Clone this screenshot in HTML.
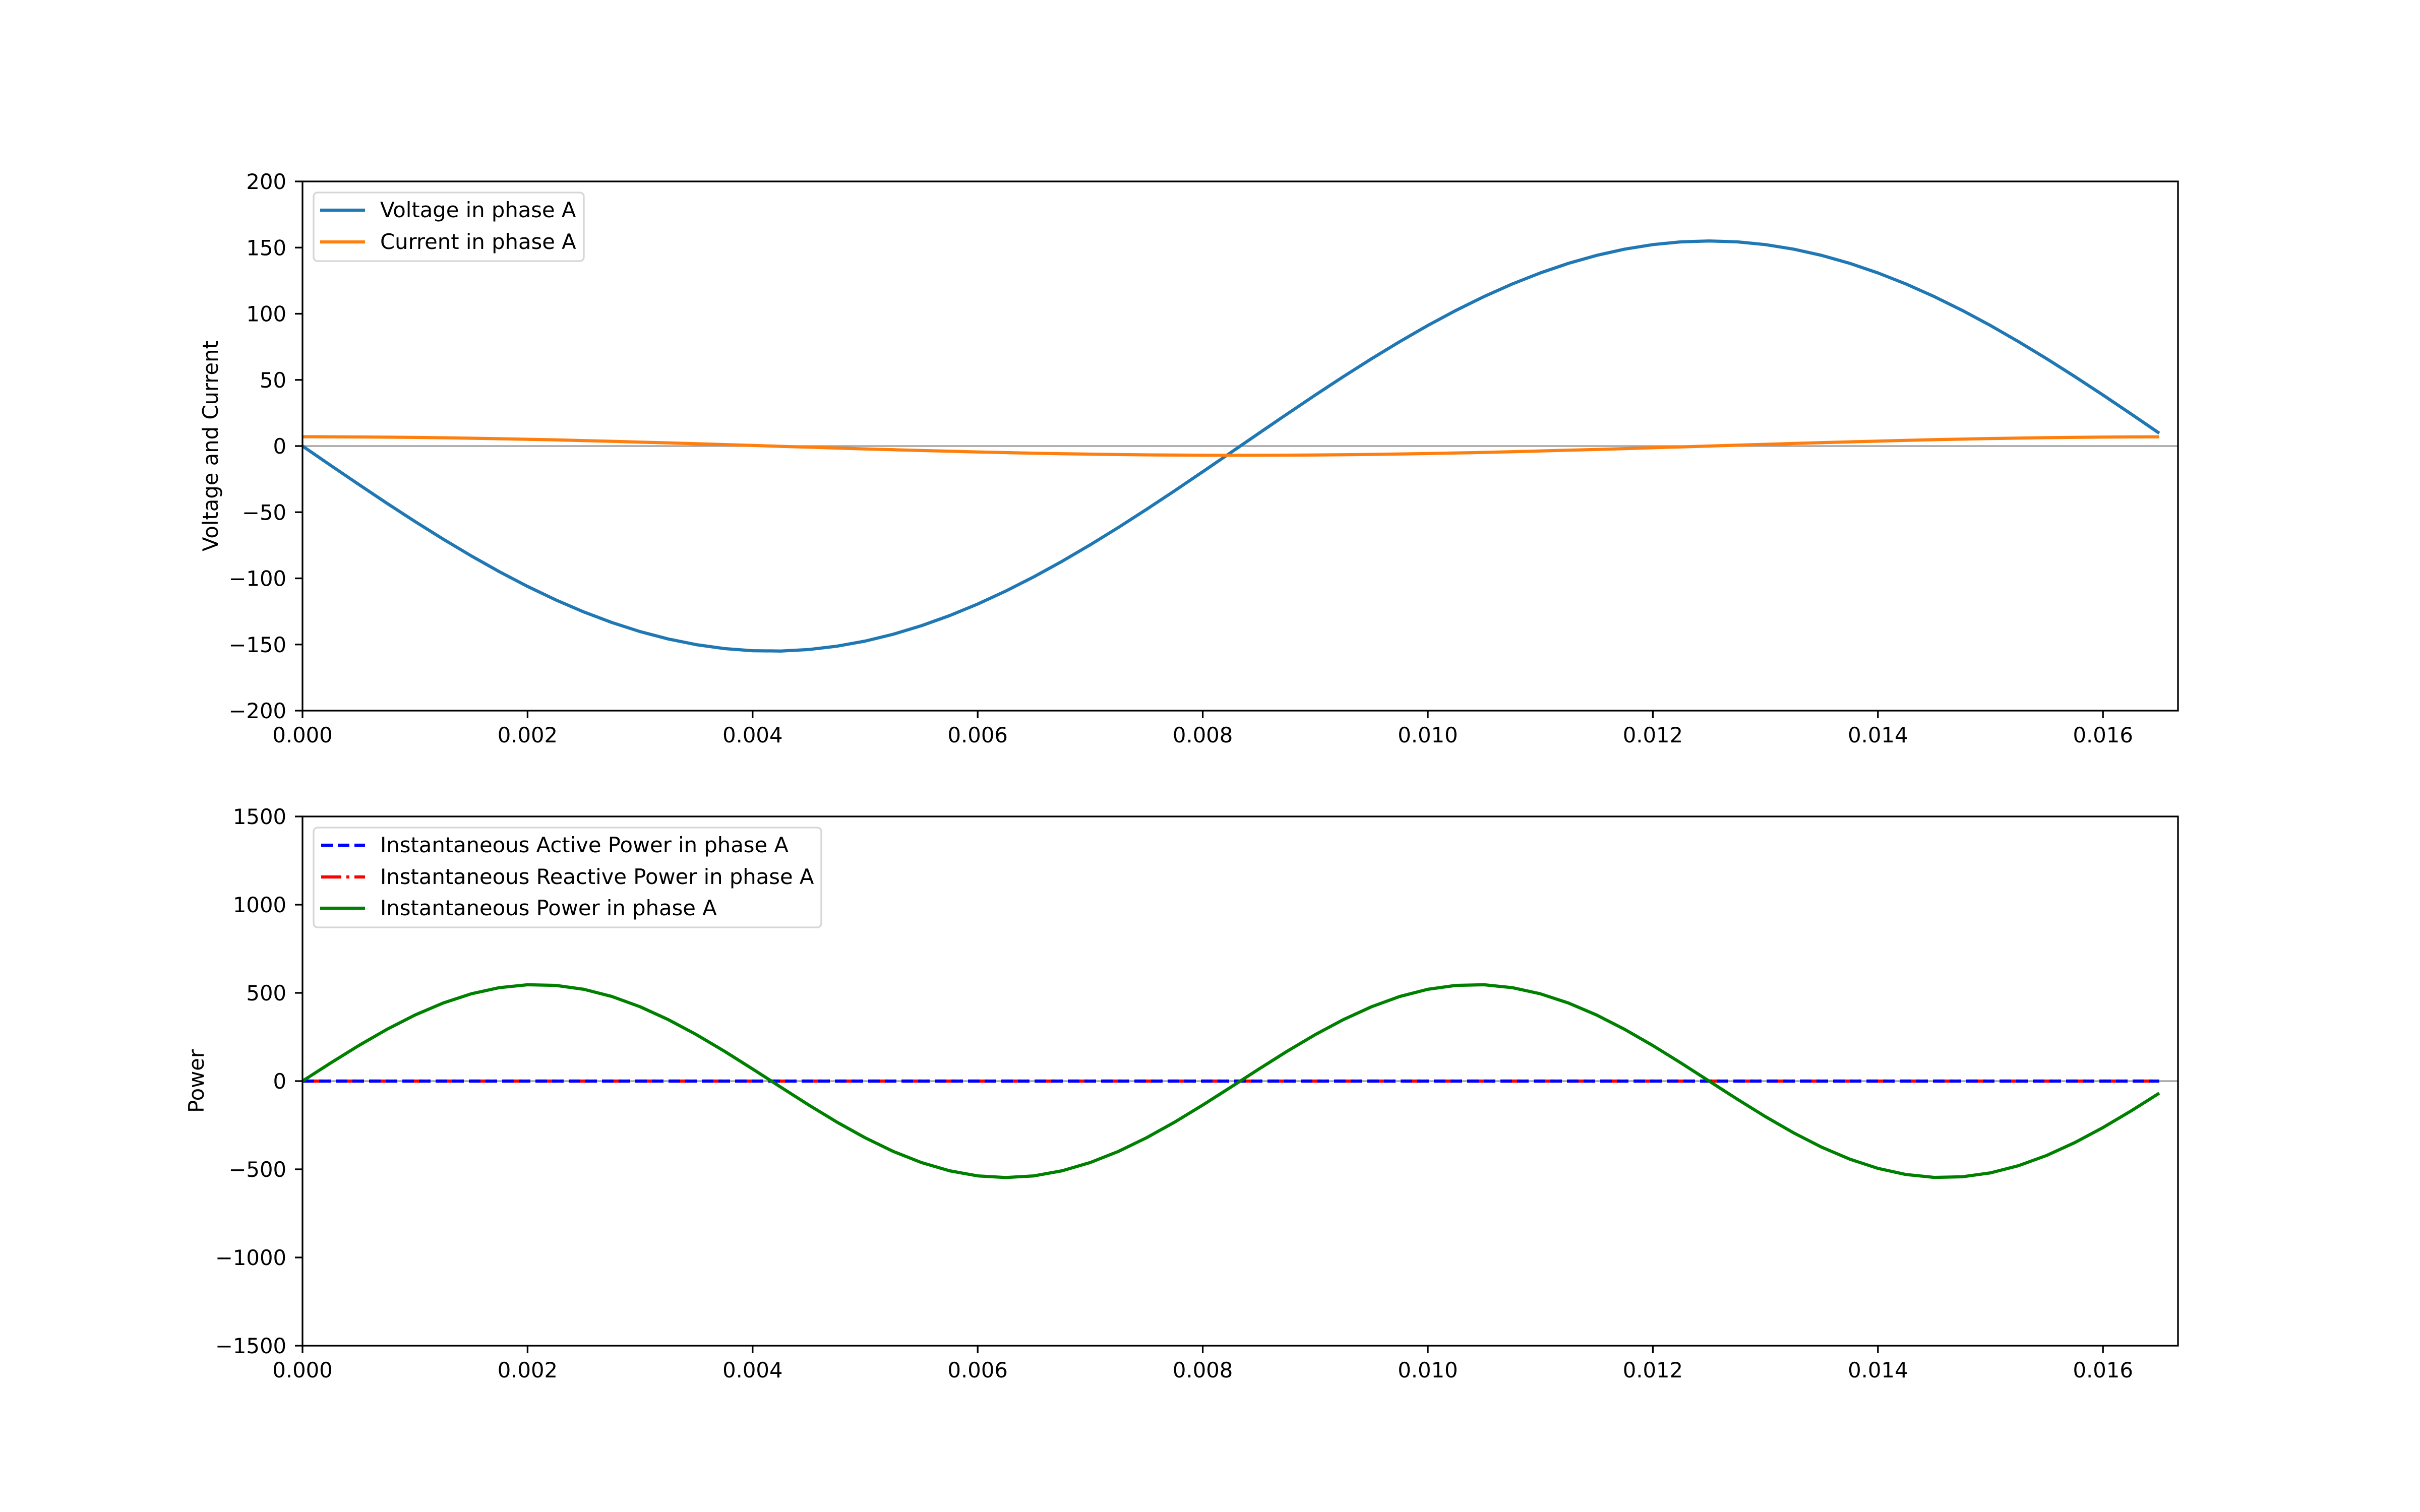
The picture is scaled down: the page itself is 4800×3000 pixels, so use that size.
<!DOCTYPE html>
<html><head><meta charset="utf-8"><style>
html,body{margin:0;padding:0;background:#fff}
svg{display:block}
text{font-family:"DejaVu Sans","Liberation Sans",sans-serif;font-size:41.7px;fill:#000}
</style></head><body>
<svg id="s" width="4800" height="3000" viewBox="0 0 4800 3000" xmlns="http://www.w3.org/2000/svg">
<rect width="4800" height="3000" fill="#fff"/>
<g id="g"></g>
</svg>
<script>
const g=document.getElementById('g');let h='';
const X=t=>600+t*223200;
const w=2*Math.PI*60;
const M='\u2212';
function fmt(v){return v<0?M+Math.abs(v):String(v);}
function axes(top,bot,ymin,ymax,step,label,labx){
  const Y=v=>bot-(v-ymin)/(ymax-ymin)*(bot-top);
  // gray zero line
  h+=`<line x1="600" x2="4320" y1="${Y(0)}" y2="${Y(0)}" stroke="#a0a0a0" stroke-width="3.3"/>`;
  for(let v=ymin;v<=ymax+1e-9;v+=step){const y=Y(v);
    h+=`<line x1="585" x2="600" y1="${y}" y2="${y}" stroke="#000" stroke-width="3.3"/>`;
    h+=`<text x="568" y="${y+15}" text-anchor="end">${fmt(v)}</text>`;}
  for(let i=0;i<=8;i++){const t=i*0.002,x=X(t);
    h+=`<line x1="${x}" x2="${x}" y1="${bot}" y2="${bot+15}" stroke="#000" stroke-width="3.3"/>`;
    h+=`<text x="${x}" y="${bot+63}" text-anchor="middle">${t.toFixed(3)}</text>`;}
  h+=`<text transform="translate(${labx},${(top+bot)/2}) rotate(-90)" text-anchor="middle">${label}</text>`;
  return Y;
}
function path(f,Y,col,extra){let d='';for(let i=0;i<=66;i++){const t=i*0.00025;d+=(i?'L':'M')+X(t).toFixed(1)+','+Y(f(t)).toFixed(1);}
  h+=`<path d="${d}" fill="none" stroke="${col}" stroke-width="6.25" stroke-linejoin="round" ${extra||''}/>`;}
const Y1=axes(360,1410,-200,200,50,'Voltage and Current',432);
path(t=>-155*Math.sin(w*t),Y1,'#1f77b4');
path(t=>7*Math.cos(w*t),Y1,'#ff7f0e');
const Y2=axes(1620,2670,-1500,1500,500,'Power',404);
path(t=>0,Y2,'#ff0000','stroke-dasharray="40,10,6,10"');
path(t=>0,Y2,'#0000ff','stroke-dasharray="23,10"');
path(t=>547*Math.sin(2*w*t),Y2,'#008000');
// frames
h+=`<rect x="600" y="360" width="3720" height="1050" fill="none" stroke="#000" stroke-width="3.3"/>`;
h+=`<rect x="600" y="1620" width="3720" height="1050" fill="none" stroke="#000" stroke-width="3.3"/>`;
// legends
h+=`<rect x="622" y="382" width="536" height="136" rx="8" fill="#fff" fill-opacity="0.8" stroke="#d6d6d6" stroke-width="3.3"/>`;
h+=`<line x1="635" x2="724" y1="417" y2="417" stroke="#1f77b4" stroke-width="6.25"/><text x="754" y="431">Voltage in phase A</text>`;
h+=`<line x1="635" x2="724" y1="480" y2="480" stroke="#ff7f0e" stroke-width="6.25"/><text x="754" y="494">Current in phase A</text>`;
h+=`<rect x="622" y="1642" width="1007" height="198" rx="8" fill="#fff" fill-opacity="0.8" stroke="#d6d6d6" stroke-width="3.3"/>`;
h+=`<line x1="637" x2="724" y1="1677" y2="1677" stroke="#0000ff" stroke-width="6.25" stroke-dasharray="23,10"/><text x="754" y="1691">Instantaneous Active Power in phase A</text>`;
h+=`<line x1="637" x2="724" y1="1740" y2="1740" stroke="#ff0000" stroke-width="6.25" stroke-dasharray="40,10,6,10"/><text x="754" y="1754">Instantaneous Reactive Power in phase A</text>`;
h+=`<line x1="635" x2="724" y1="1802" y2="1802" stroke="#008000" stroke-width="6.25"/><text x="754" y="1816">Instantaneous Power in phase A</text>`;
g.innerHTML=h;
</script>
</body></html>
